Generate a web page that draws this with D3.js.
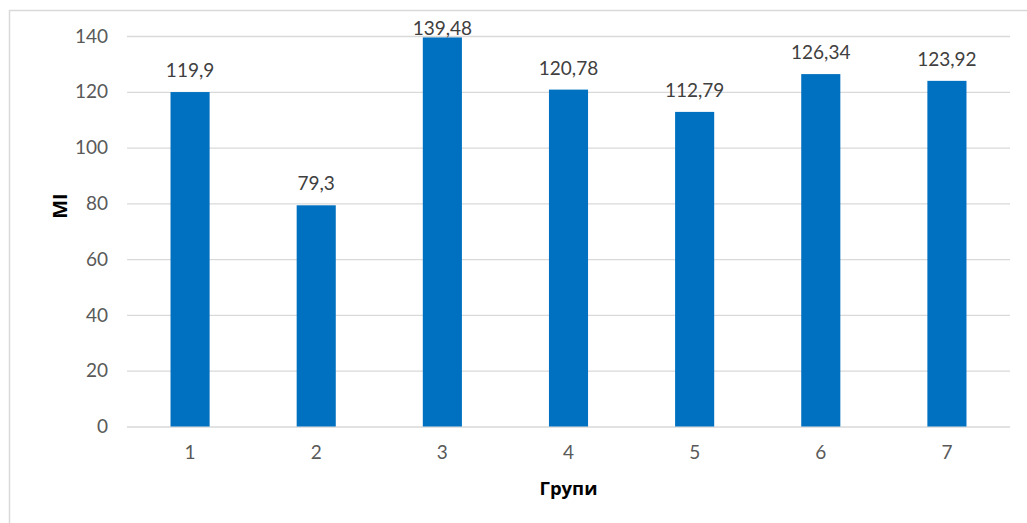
<!DOCTYPE html>
<html>
<head>
<meta charset="utf-8">
<script src="https://cdn.jsdelivr.net/npm/d3@7"></script>
<style>
  html, body { margin: 0; padding: 0; background: #fff; }
  svg { display: block; }
</style>
</head>
<body>
<svg id="chart" width="1027" height="523"></svg>
<script>
// Group numbers and their MI values
const groups = ["1", "2", "3", "4", "5", "6", "7"];
const miValues = [119.9, 79.3, 139.48, 120.78, 112.79, 126.34, 123.92];
const miLabels = ["119,9", "79,3", "139,48", "120,78", "112,79", "126,34", "123,92"];
const yTicks = [0, 20, 40, 60, 80, 100, 120, 140];
const xTitle = "Групи";
const yTitle = "MI";

const svg = d3.select("#chart");
const W = 1027, H = 523;
const plot = { left: 127, right: 1010, top: 36, bottom: 426.5 };

// Chart frame
svg.append("rect")
  .attr("x", 9.5).attr("y", 10.5)
  .attr("width", W + 20).attr("height", H + 20)
  .attr("fill", "#fff").attr("stroke", "#d9d9d9").attr("stroke-width", 1.5);

const x = d3.scaleBand()
  .domain(groups)
  .range([plot.left, plot.right])
  .paddingInner(0.69)
  .paddingOuter(0.345);

const y = d3.scaleLinear()
  .domain([0, 140])
  .range([plot.bottom, plot.top]);

const numFont = "Lato, 'Open Sans', sans-serif";

// Horizontal gridlines with value labels
const yAxis = d3.axisLeft(y)
  .tickValues(yTicks)
  .tickSize(-(plot.right - plot.left))
  .tickPadding(19)
  .tickFormat(d3.format("d"));

const gy = svg.append("g")
  .attr("transform", `translate(${plot.left},0)`)
  .call(yAxis);
gy.select(".domain").remove();
gy.selectAll(".tick line").attr("stroke", "#d9d9d9").attr("stroke-width", 1.3);
gy.selectAll(".tick text")
  .attr("fill", "#595959")
  .style("font-family", numFont)
  .style("font-size", "19px");

// Category axis
const xAxis = d3.axisBottom(x).tickSize(0).tickPadding(19);
const gx = svg.append("g")
  .attr("transform", `translate(0,${plot.bottom})`)
  .call(xAxis);
gx.select(".domain").remove();
gx.selectAll(".tick text")
  .attr("fill", "#595959")
  .style("font-family", numFont)
  .style("font-size", "19px");

// Bars
svg.append("g").selectAll("rect")
  .data(miValues)
  .join("rect")
  .attr("x", (d, i) => x(groups[i]))
  .attr("y", d => y(d))
  .attr("width", x.bandwidth())
  .attr("height", d => y(0) - y(d))
  .attr("fill", "#0070c0");

// Value labels, kept from rising too far above the plot area
svg.append("g").selectAll("text")
  .data(miValues)
  .join("text")
  .attr("x", (d, i) => x(groups[i]) + x.bandwidth() / 2)
  .attr("y", d => Math.max(y(d) - 15, plot.top - 1))
  .attr("text-anchor", "middle")
  .attr("fill", "#404040")
  .style("font-family", numFont)
  .style("font-size", "19px")
  .text((d, i) => miLabels[i]);

// Axis titles
svg.append("text")
  .attr("x", (plot.left + plot.right) / 2)
  .attr("y", 495)
  .attr("text-anchor", "middle")
  .attr("fill", "#000")
  .style("font-family", "'Open Sans', 'Noto Sans', sans-serif")
  .style("font-weight", "bold")
  .style("font-size", "18.5px")
  .text(xTitle);

svg.append("text")
  .attr("transform", "translate(67,206) rotate(-90)")
  .attr("text-anchor", "middle")
  .attr("fill", "#000")
  .style("font-family", "'Open Sans', 'Noto Sans', sans-serif")
  .style("font-weight", "bold")
  .style("font-size", "20px")
  .text(yTitle);
</script>
</body>
</html>
